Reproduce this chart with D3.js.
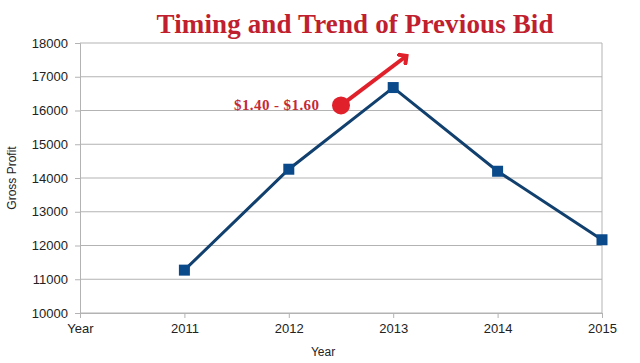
<!DOCTYPE html>
<html>
<head>
<meta charset="utf-8">
<script src="https://cdnjs.cloudflare.com/ajax/libs/d3/7.8.5/d3.min.js"></script>
<style>
  body { margin: 0; background: #fff; }
  svg { display: block; }
</style>
</head>
<body>
<svg id="chart" width="640" height="363"></svg>
<script>
// chart data
var categories = ['Year', '2011', '2012', '2013', '2014', '2015'];
var grossProfit = [null, 11270, 14260, 16680, 14200, 12170];
var yTicks = [10000, 11000, 12000, 13000, 14000, 15000, 16000, 17000, 18000];
var titleText = 'Timing and Trend of Previous Bid';
var noteText = '$1.40 - $1.60';
// annotation: dot between 2012 and 2013, arrow pointing up past 2013
var noteFrom = [2.5, 16150];
var noteTo = [3.12, 17600];

var svg = d3.select('#chart');
var plotLeft = 80, plotRight = 602, plotTop = 43, plotBottom = 313;

var x = d3.scaleLinear().domain([0, categories.length - 1]).range([plotLeft, plotRight]);
var y = d3.scaleLinear().domain([10000, 18000]).range([plotBottom, plotTop]);

// grid lines
svg.append('g')
    .selectAll('line')
    .data(yTicks)
    .enter()
    .append('line')
    .attr('x1', plotLeft)
    .attr('x2', plotRight)
    .attr('y1', function(d) { return y(d); })
    .attr('y2', function(d) { return y(d); })
    .attr('stroke', '#b3b3b3')
    .attr('stroke-width', 1);

// right border
svg.append('line')
    .attr('x1', plotRight).attr('x2', plotRight)
    .attr('y1', plotTop).attr('y2', plotBottom)
    .attr('stroke', '#b3b3b3');

// y axis
var yAxis = svg.append('g')
    .attr('transform', 'translate(' + plotLeft + ',0)')
    .call(d3.axisLeft(y).tickValues(yTicks).tickSize(5).tickPadding(7).tickFormat(d3.format('d')));
yAxis.select('.domain').attr('stroke', '#b3b3b3');
yAxis.selectAll('.tick line').attr('stroke', '#b3b3b3');
yAxis.selectAll('text')
    .attr('font-family', 'Liberation Sans, Arial, sans-serif')
    .attr('font-size', 13)
    .attr('fill', '#222');

// x axis
var xAxis = svg.append('g')
    .attr('transform', 'translate(0,' + plotBottom + ')')
    .call(d3.axisBottom(x).tickValues(d3.range(categories.length)).tickSize(5).tickPadding(6)
        .tickFormat(function(i) { return categories[i]; }));
xAxis.select('.domain').attr('stroke', '#b3b3b3');
xAxis.selectAll('.tick line').attr('stroke', '#b3b3b3');
xAxis.selectAll('text')
    .attr('font-family', 'Liberation Sans, Arial, sans-serif')
    .attr('font-size', 13)
    .attr('fill', '#222');

// axis titles
svg.append('text')
    .attr('x', 323)
    .attr('y', 356)
    .attr('text-anchor', 'middle')
    .attr('font-family', 'Liberation Sans, Arial, sans-serif')
    .attr('font-size', 12)
    .attr('fill', '#222')
    .text('Year');

svg.append('text')
    .attr('transform', 'translate(16,178) rotate(-90)')
    .attr('text-anchor', 'middle')
    .attr('font-family', 'Liberation Sans, Arial, sans-serif')
    .attr('font-size', 12)
    .attr('fill', '#222')
    .text('Gross Profit');

// data line
var pts = grossProfit.map(function(v, i) { return [i, v]; })
    .filter(function(p) { return p[1] !== null; });

var line = d3.line()
    .x(function(d) { return x(d[0]); })
    .y(function(d) { return y(d[1]); });

svg.append('path')
    .datum(pts)
    .attr('d', line)
    .attr('fill', 'none')
    .attr('stroke', '#11406e')
    .attr('stroke-width', 3);

svg.selectAll('rect.marker')
    .data(pts)
    .enter()
    .append('rect')
    .attr('class', 'marker')
    .attr('x', function(d) { return x(d[0]) - 5.5; })
    .attr('y', function(d) { return y(d[1]) - 5.5; })
    .attr('width', 11)
    .attr('height', 11)
    .attr('fill', '#0b4a8a');

// title
svg.append('text')
    .attr('x', 355)
    .attr('y', 33)
    .attr('text-anchor', 'middle')
    .attr('font-family', 'Liberation Serif, DejaVu Serif, serif')
    .attr('font-weight', 'bold')
    .attr('font-size', 27)
    .attr('textLength', 397)
    .attr('lengthAdjust', 'spacing')
    .attr('fill', '#bf1f2e')
    .text(titleText);

// annotation arrow
var defs = svg.append('defs');
defs.append('marker')
    .attr('id', 'arrow-head')
    .attr('orient', 'auto')
    .attr('markerUnits', 'userSpaceOnUse')
    .attr('refX', 6)
    .attr('refY', 7)
    .attr('markerWidth', 14)
    .attr('markerHeight', 14)
    .append('path')
    .attr('d', 'M 0 0 L 7 7 L 0 14')
    .attr('fill', 'none')
    .attr('stroke', '#e0202a')
    .attr('stroke-width', 4)
    .attr('stroke-linejoin', 'miter');

svg.append('line')
    .attr('x1', x(noteFrom[0]))
    .attr('y1', y(noteFrom[1]))
    .attr('x2', x(noteTo[0]))
    .attr('y2', y(noteTo[1]))
    .attr('stroke', '#e0202a')
    .attr('stroke-width', 4)
    .attr('marker-end', 'url(#arrow-head)');

svg.append('circle')
    .attr('cx', x(noteFrom[0]))
    .attr('cy', y(noteFrom[1]))
    .attr('r', 9)
    .attr('fill', '#e0202a');

svg.append('text')
    .attr('x', x(noteFrom[0]) - 22)
    .attr('y', y(noteFrom[1]) + 5)
    .attr('text-anchor', 'end')
    .attr('font-family', 'Liberation Serif, DejaVu Serif, serif')
    .attr('font-weight', 'bold')
    .attr('font-size', 15)
    .attr('textLength', 85)
    .attr('lengthAdjust', 'spacing')
    .attr('fill', '#c42a36')
    .text(noteText);
</script>
</body>
</html>
